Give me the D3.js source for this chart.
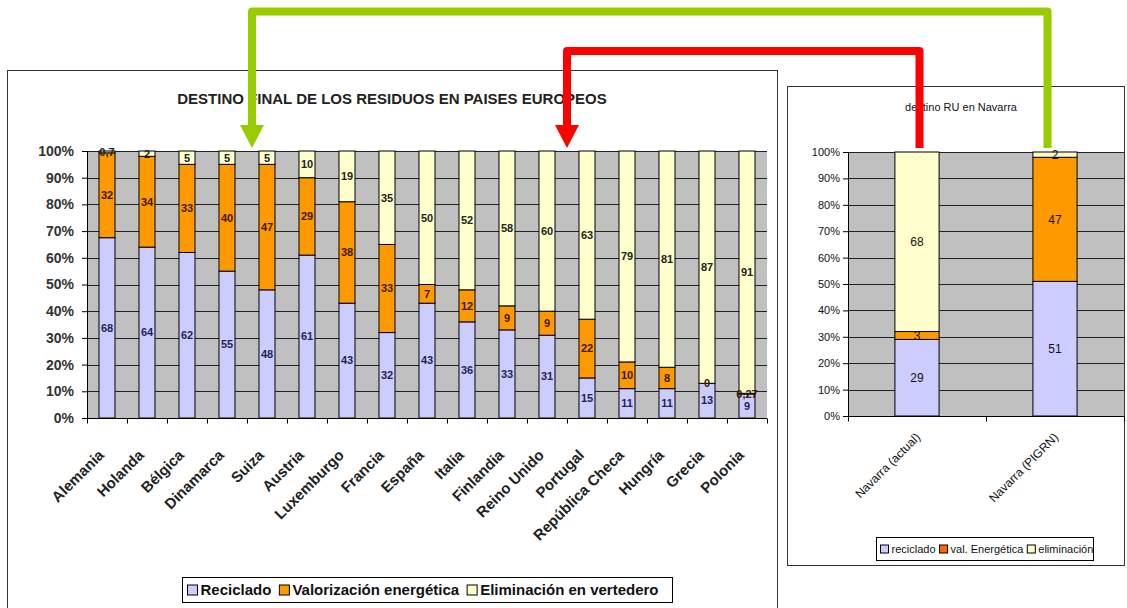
<!DOCTYPE html>
<html>
<head>
<meta charset="utf-8">
<script src="https://cdn.jsdelivr.net/npm/d3@7"></script>
<style>
  body { margin: 0; background: #fff; }
  svg { display: block; font-family: "Liberation Sans", Arial, sans-serif; }
</style>
</head>
<body>
<div id="main"></div>
<script>
// European countries (left chart), percentages
var countries = ["Alemania", "Holanda", "Bélgica", "Dinamarca", "Suiza", "Austria",
    "Luxemburgo", "Francia", "España", "Italia", "Finlandia", "Reino Unido",
    "Portugal", "República Checa", "Hungría", "Grecia", "Polonia"];
var reciclado = [68, 64, 62, 55, 48, 61, 43, 32, 43, 36, 33, 31, 15, 11, 11, 13, 9];
var valorizacion = [32, 34, 33, 40, 47, 29, 38, 33, 7, 12, 9, 9, 22, 10, 8, 0, 0.27];
var eliminacion = [0.7, 2, 5, 5, 5, 10, 19, 35, 50, 52, 58, 60, 63, 79, 81, 87, 91];
var seriesNames = ["Reciclado", "Valorización energética", "Eliminación en vertedero"];

// Navarra (right chart)
var navCats = ["Navarra (actual)", "Navarra (PIGRN)"];
var navReciclado = [29, 51];
var navValorizacion = [3, 47];
var navEliminacion = [68, 2];
var navSeriesNames = ["reciclado", "val. Energética", "eliminación"];

var ctx = {
    w: 1127,
    h: 608,
    colors: ["#CCCCFF", "#FF9900", "#FFFFCC"],
    labelColors: ["#1f1f5c", "#3a1800", "#222222"],
    plotBg: "#C0C0C0",
};

var fmt = function (v) {
    return String(v).replace(".", ",");
};

var svg = d3.select("#main").append("svg")
    .attr("width", ctx.w)
    .attr("height", ctx.h);

function buildRows(cats, a, b, c) {
    return cats.map(function (name, i) {
        return { name: name, s0: a[i], s1: b[i], s2: c[i] };
    });
}

function drawStacked(g, rows, x, y, opts) {
    var stack = d3.stack().keys(["s0", "s1", "s2"]).offset(d3.stackOffsetExpand);
    var layers = stack(rows);
    var x0 = x.range()[0], x1 = x.range()[1];

    // plot background
    g.append("rect")
        .attr("x", x0).attr("y", y(1))
        .attr("width", x1 - x0).attr("height", y(0) - y(1))
        .attr("fill", ctx.plotBg);

    // gridlines
    g.append("g").selectAll("line")
        .data(y.ticks(10).filter(function (t) { return t > 0; }))
        .enter().append("line")
        .attr("x1", x0).attr("x2", x1)
        .attr("y1", function (d) { return Math.round(y(d)) + 0.5; })
        .attr("y2", function (d) { return Math.round(y(d)) + 0.5; })
        .attr("stroke", "#222").attr("stroke-width", 1);

    // bars
    layers.forEach(function (layer, k) {
        g.append("g").selectAll("rect")
            .data(layer)
            .enter().append("rect")
            .attr("x", function (d) { return x(d.data.name); })
            .attr("width", x.bandwidth())
            .attr("y", function (d) { return y(d[1]); })
            .attr("height", function (d) { return y(d[0]) - y(d[1]); })
            .attr("fill", ctx.colors[k])
            .attr("stroke", "#000")
            .attr("stroke-width", 1);
    });

    // value labels
    layers.forEach(function (layer, k) {
        g.append("g").selectAll("text")
            .data(layer)
            .enter().append("text")
            .attr("x", function (d) { return x(d.data.name) + x.bandwidth() / 2; })
            .attr("y", function (d) { return (y(d[0]) + y(d[1])) / 2; })
            .attr("dy", "0.35em")
            .attr("text-anchor", "middle")
            .attr("font-size", opts.labelSize)
            .attr("font-weight", opts.bold ? "bold" : "normal")
            .attr("fill", opts.bold ? ctx.labelColors[k] : "#111")
            .text(function (d) { return fmt(d.data["s" + k]); });
    });

    // y axis
    var yAxis = g.append("g")
        .attr("transform", "translate(" + x0 + ",0)")
        .call(d3.axisLeft(y).ticks(10).tickSize(5).tickPadding(opts.tickPad)
            .tickFormat(d3.format(".0%")));
    yAxis.select(".domain").attr("stroke", "#000");
    yAxis.selectAll("text")
        .attr("font-size", opts.yFont)
        .attr("font-weight", opts.bold ? "bold" : "normal")
        .attr("font-family", "Liberation Sans, Arial, sans-serif")
        .attr("fill", opts.bold ? "#333" : "#111");

    // x axis line with boundary ticks
    var yb = Math.round(y(0)) + 0.5;
    g.append("line")
        .attr("x1", x0).attr("x2", x1)
        .attr("y1", yb).attr("y2", yb)
        .attr("stroke", "#000");
    g.append("g").selectAll("line")
        .data(d3.range(rows.length + 1))
        .enter().append("line")
        .attr("x1", function (i) { return x0 + i * x.step() + 0.5; })
        .attr("x2", function (i) { return x0 + i * x.step() + 0.5; })
        .attr("y1", yb).attr("y2", yb + 5)
        .attr("stroke", "#000");

    // rotated category labels
    g.append("g").selectAll("text")
        .data(rows)
        .enter().append("text")
        .attr("transform", function (d) {
            var cx = x(d.name) + x.bandwidth() / 2 + opts.xLabDx;
            return "translate(" + cx + "," + (y(0) + opts.xLabDy) + ") rotate(-45)";
        })
        .attr("text-anchor", "end")
        .attr("font-size", opts.xFont)
        .attr("font-weight", opts.bold ? "bold" : "normal")
        .attr("fill", opts.bold ? "#222" : "#111")
        .text(function (d) { return d.name; });
}

function drawLegend(g, names, opts) {
    g.append("rect")
        .attr("x", opts.x).attr("y", opts.y)
        .attr("width", opts.w).attr("height", opts.h)
        .attr("fill", "#fff").attr("stroke", "#000").attr("stroke-width", 1);
    var cx = opts.x + opts.pad;
    names.forEach(function (name, k) {
        g.append("rect")
            .attr("x", cx).attr("y", opts.y + opts.h / 2 - opts.sq / 2)
            .attr("width", opts.sq).attr("height", opts.sq)
            .attr("fill", opts.colors[k]).attr("stroke", "#000");
        var t = g.append("text")
            .attr("x", cx + opts.sq + 3)
            .attr("y", opts.y + opts.h / 2)
            .attr("dy", "0.36em")
            .attr("font-size", opts.font)
            .attr("font-weight", opts.bold ? "bold" : "normal")
            .attr("fill", "#111")
            .text(name);
        cx += opts.sq + 3 + t.node().getComputedTextLength() + opts.gap;
    });
}

// ---------- left panel ----------
svg.append("rect")
    .attr("x", 7.5).attr("y", 70.5)
    .attr("width", 770).attr("height", 600)
    .attr("fill", "#fff").attr("stroke", "#333");

svg.append("text")
    .attr("x", 392).attr("y", 104)
    .attr("text-anchor", "middle")
    .attr("font-size", 15).attr("font-weight", "bold")
    .attr("fill", "#222")
    .text("DESTINO FINAL DE LOS RESIDUOS EN PAISES EUROPEOS");

var xL = d3.scaleBand().domain(countries).range([87, 767])
    .paddingInner(0.6).paddingOuter(0.3);
var yL = d3.scaleLinear().domain([0, 1]).range([418, 151]);

drawStacked(svg.append("g"), buildRows(countries, reciclado, valorizacion, eliminacion), xL, yL, {
    labelSize: 11, bold: true, yFont: 14, tickPad: 8, xFont: 15, xLabDx: -2, xLabDy: 38,
});

drawLegend(svg.append("g"), seriesNames, {
    x: 182.5, y: 577.5, w: 490, h: 25, pad: 5, sq: 10, gap: 8, font: 15, bold: true,
    colors: ctx.colors,
});

// ---------- right panel ----------
svg.append("rect")
    .attr("x", 787.5).attr("y", 86.5)
    .attr("width", 337).attr("height", 479)
    .attr("fill", "#fff").attr("stroke", "#333");

svg.append("text")
    .attr("x", 961).attr("y", 111)
    .attr("text-anchor", "middle")
    .attr("font-size", 11)
    .attr("fill", "#111")
    .text("destino RU en Navarra");

var xR = d3.scaleBand().domain(navCats).range([848, 1124])
    .paddingInner(0.68).paddingOuter(0.34);
var yR = d3.scaleLinear().domain([0, 1]).range([416, 152]);

drawStacked(svg.append("g"), buildRows(navCats, navReciclado, navValorizacion, navEliminacion), xR, yR, {
    labelSize: 12, bold: false, yFont: 11, tickPad: 3, xFont: 12, xLabDx: 4, xLabDy: 22,
});

drawLegend(svg.append("g"), navSeriesNames, {
    x: 876.5, y: 537.5, w: 217, h: 23, pad: 4, sq: 8, gap: 4, font: 11, bold: false,
    colors: ["#CCCCFF", "#FF6600", "#FFFFCC"],
});

// ---------- connecting arrows ----------
function drawArrow(color, xs, xe, yTop) {
    var path = d3.path();
    path.moveTo(xs, 148);
    path.lineTo(xs, yTop);
    path.lineTo(xe, yTop);
    path.lineTo(xe, 126);
    svg.append("path")
        .attr("d", path.toString())
        .attr("fill", "none")
        .attr("stroke", color)
        .attr("stroke-width", 8)
        .attr("stroke-linejoin", "round");
    svg.append("path")
        .attr("d", "M" + (xe - 12) + ",125L" + (xe + 12) + ",125L" + xe + ",148Z")
        .attr("fill", color);
}

drawArrow("#99CC00", 1047.5, 252, 11.5);
drawArrow("#FF0000", 919.5, 567, 51);
</script>
</body>
</html>
